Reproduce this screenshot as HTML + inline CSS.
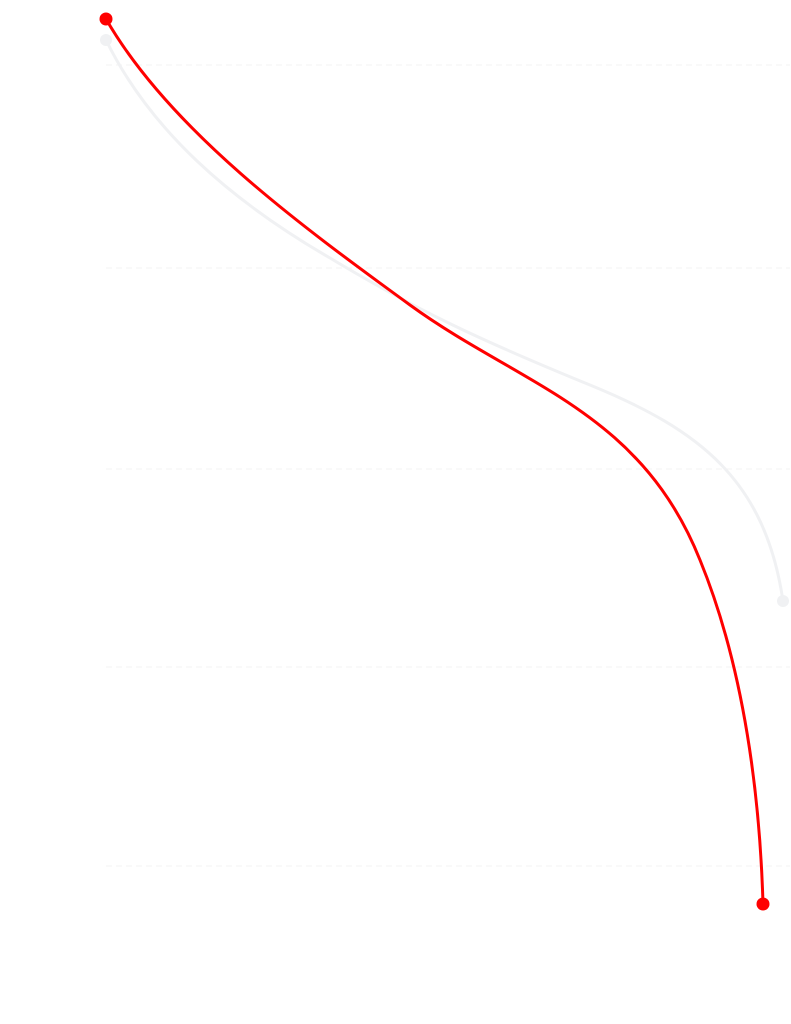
<!DOCTYPE html>
<html><head><style>html,body{margin:0;padding:0;background:#fff;}svg{display:block}</style></head>
<body>
<svg width="791" height="1024" viewBox="0 0 791 1024" xmlns="http://www.w3.org/2000/svg">
<g stroke="#f3f3f3" stroke-width="1" stroke-dasharray="6,4">
<line x1="106" y1="65" x2="790" y2="65"/>
<line x1="106" y1="268" x2="790" y2="268"/>
<line x1="106" y1="469" x2="790" y2="469"/>
<line x1="106" y1="667" x2="790" y2="667"/>
<line x1="106" y1="866" x2="790" y2="866"/>
</g>
<path d="M106,40 C150,130 230,200 330,258 C420,312 480,340 590,385 C700,430 765,480 783,601" fill="none" stroke="#f0f1f3" stroke-width="3"/>
<circle cx="106" cy="40" r="6" fill="#f0f1f3"/>
<circle cx="783" cy="601" r="6" fill="#f0f1f3"/>
<path d="M106,19 C170,130 300,225 410,305 C520,385 640,410 700,560 C745,670 760,800 763,904" fill="none" stroke="#ff0000" stroke-width="3"/>
<circle cx="106" cy="19" r="6.5" fill="#ff0000"/>
<circle cx="763" cy="904" r="6.5" fill="#ff0000"/>
</svg>
</body></html>
